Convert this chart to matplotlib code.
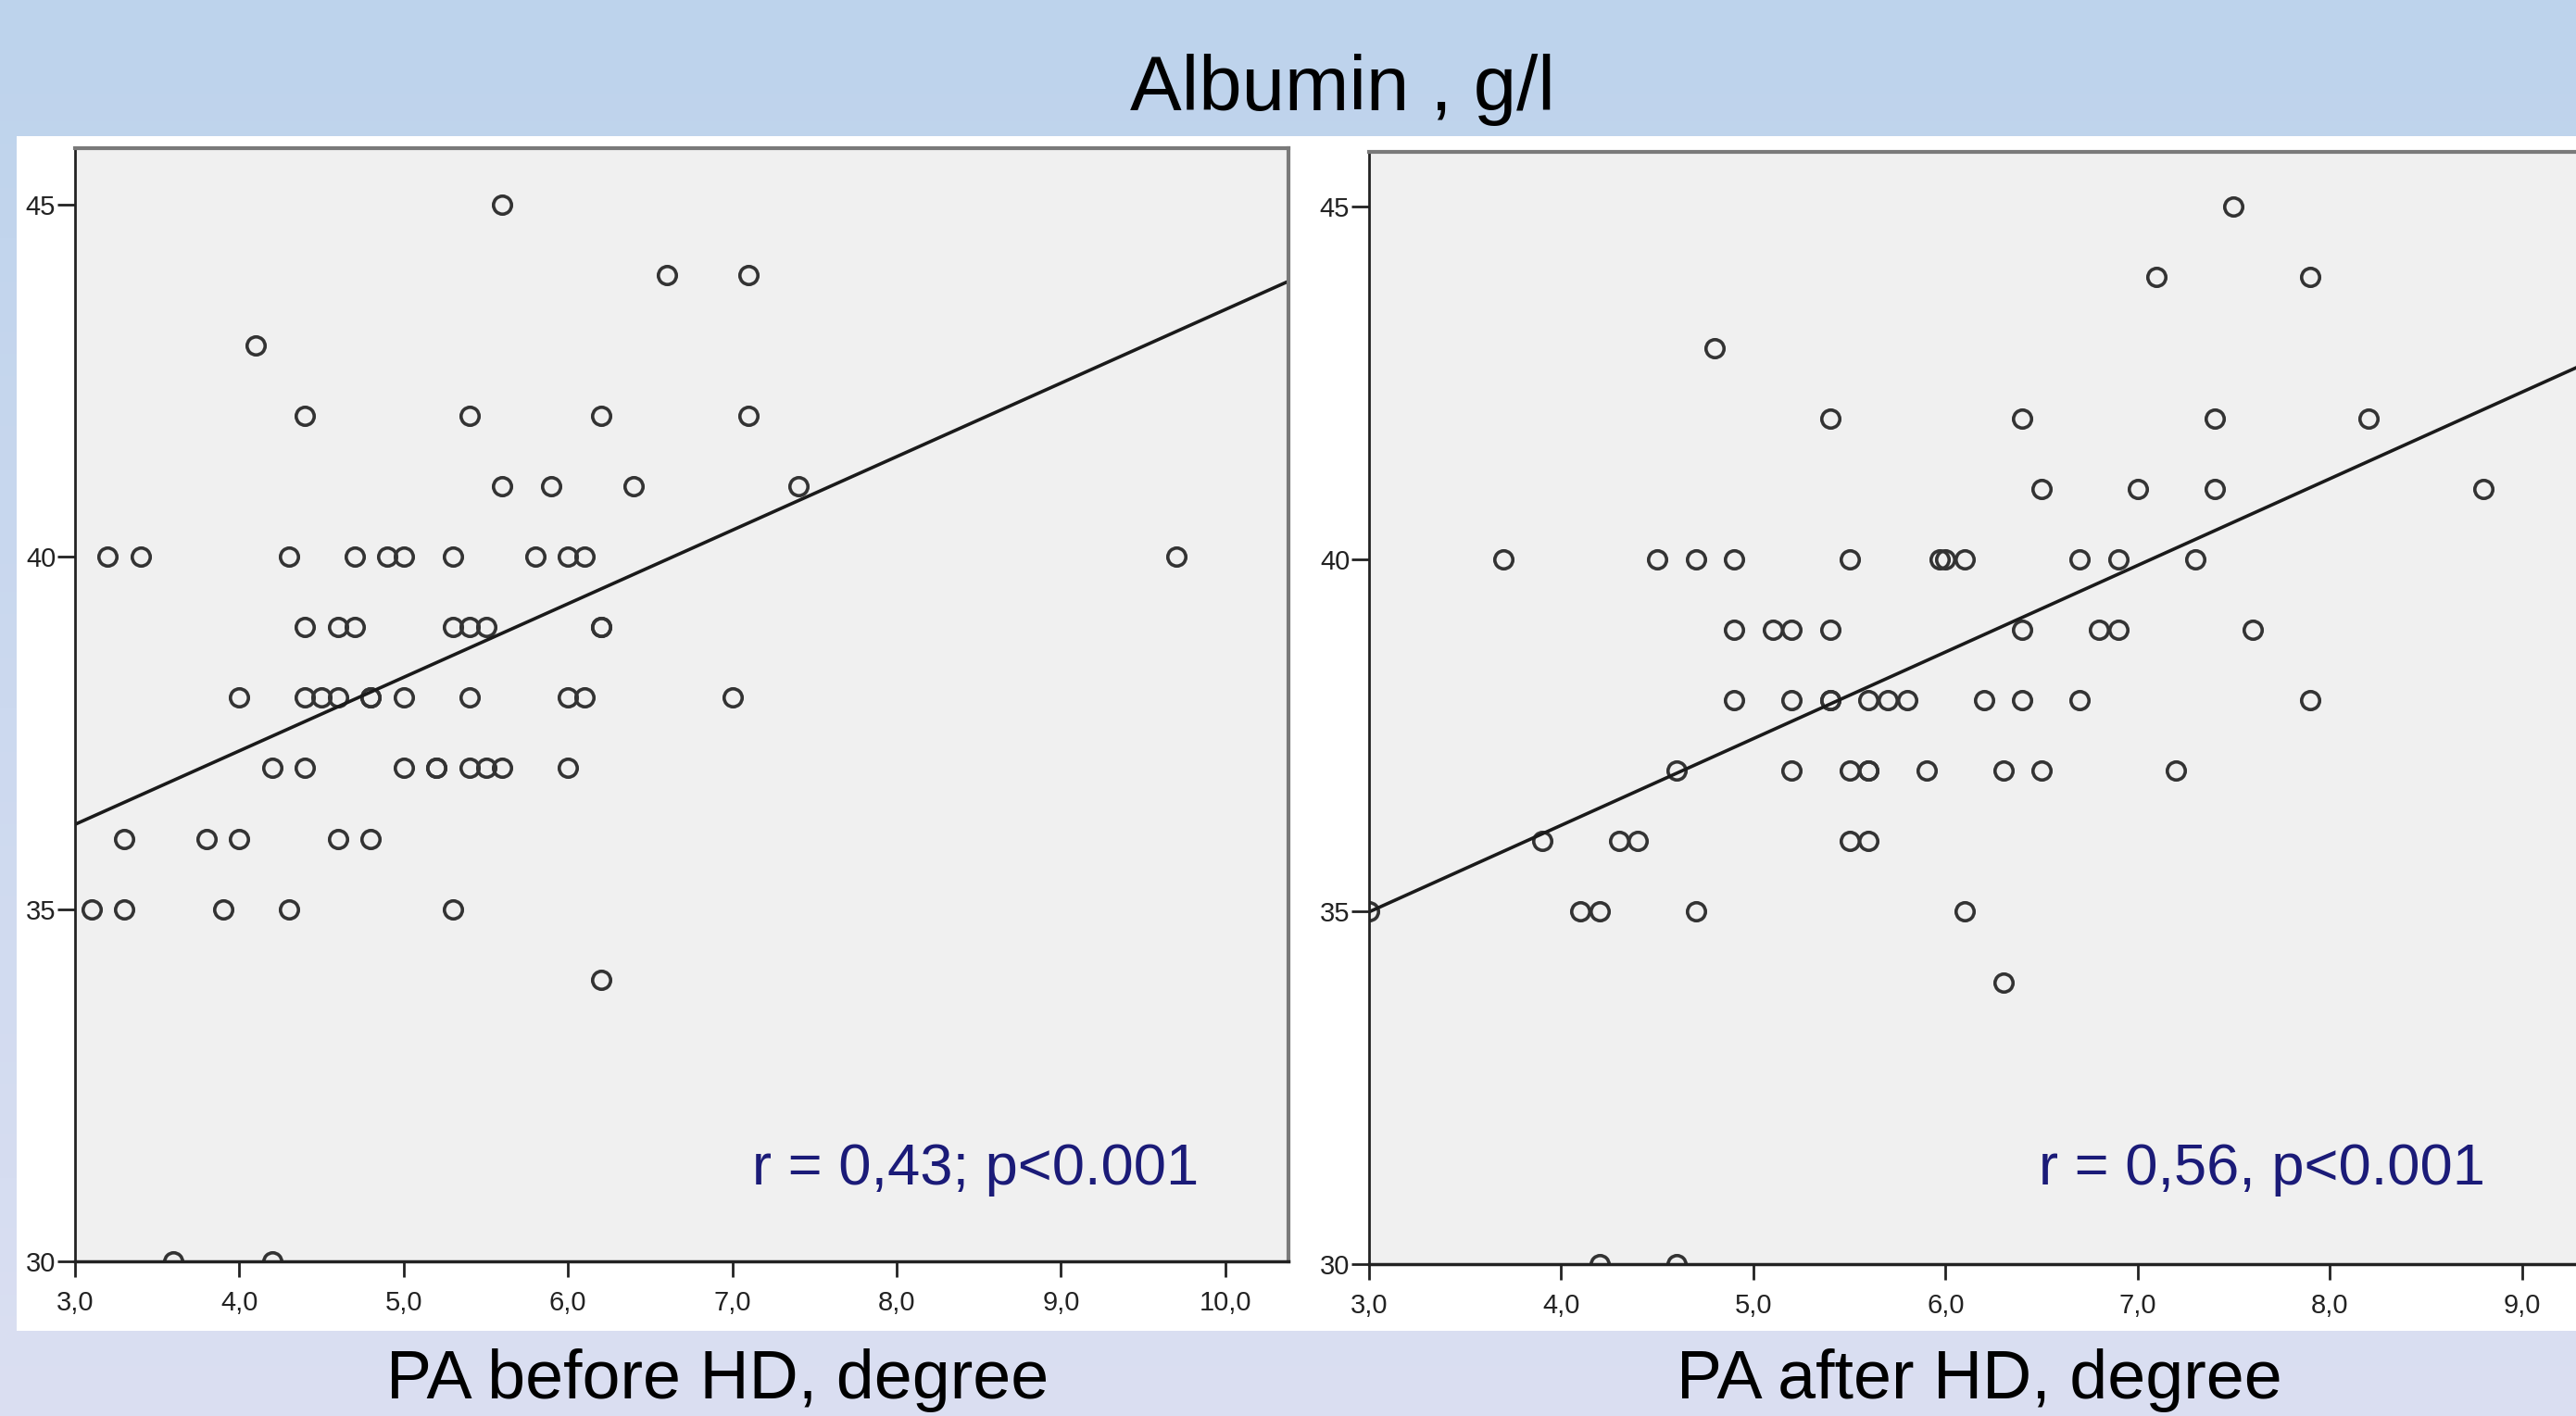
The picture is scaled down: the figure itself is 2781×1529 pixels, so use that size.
import numpy as np
import matplotlib
matplotlib.use("Agg")
import matplotlib.pyplot as plt
from matplotlib.patches import Rectangle

plt.rcParams.update({
    "font.family": ["Liberation Sans", "DejaVu Sans"],
    "xtick.labelsize": 21,
    "ytick.labelsize": 21,
    "xtick.color": "#222222",
    "ytick.color": "#222222",
})

# ---- data ----
# PA before HD (degree) vs albumin (g/l)
before_x = [5.6,
            6.6, 7.1,
            4.1,
            4.4, 5.4, 6.2, 7.1,
            5.6, 5.9, 6.4, 7.4,
            3.2, 3.4, 4.3, 4.7, 4.9, 5.0, 5.3, 5.8, 6.0, 6.1, 9.7,
            4.4, 4.6, 4.7, 5.3, 5.4, 5.5, 6.2, 6.2,
            4.0, 4.4, 4.5, 4.6, 4.8, 4.8, 5.0, 5.4, 6.0, 6.1, 7.0,
            4.2, 4.4, 5.0, 5.2, 5.2, 5.4, 5.5, 5.6, 6.0,
            3.3, 3.8, 4.0, 4.6, 4.8,
            3.1, 3.3, 3.9, 4.3, 5.3,
            6.2,
            3.6, 4.2]
before_y = [45,
            44, 44,
            43,
            42, 42, 42, 42,
            41, 41, 41, 41,
            40, 40, 40, 40, 40, 40, 40, 40, 40, 40, 40,
            39, 39, 39, 39, 39, 39, 39, 39,
            38, 38, 38, 38, 38, 38, 38, 38, 38, 38, 38,
            37, 37, 37, 37, 37, 37, 37, 37, 37,
            36, 36, 36, 36, 36,
            35, 35, 35, 35, 35,
            34,
            30, 30]

# PA after HD (degree) vs albumin (g/l)
after_x = [7.5,
           7.1, 7.9,
           4.8,
           5.4, 6.4, 7.4, 8.2,
           6.5, 7.0, 7.4, 8.8,
           3.7, 4.5, 4.7, 4.9, 5.5, 5.97, 6.0, 6.1, 6.7, 6.9, 7.3,
           4.9, 5.1, 5.2, 5.4, 6.4, 6.8, 6.9, 7.6,
           4.9, 5.2, 5.4, 5.4, 5.6, 5.7, 5.8, 6.2, 6.4, 6.7, 7.9,
           4.6, 5.2, 5.5, 5.6, 5.6, 5.9, 6.3, 6.5, 7.2,
           3.9, 4.3, 4.4, 5.5, 5.6,
           3.0, 4.1, 4.2, 4.7, 6.1,
           6.3,
           4.2, 4.6]
after_y = [45,
           44, 44,
           43,
           42, 42, 42, 42,
           41, 41, 41, 41,
           40, 40, 40, 40, 40, 40, 40, 40, 40, 40, 40,
           39, 39, 39, 39, 39, 39, 39, 39,
           38, 38, 38, 38, 38, 38, 38, 38, 38, 38, 38,
           37, 37, 37, 37, 37, 37, 37, 37, 37,
           36, 36, 36, 36, 36,
           35, 35, 35, 35, 35,
           34,
           30, 30]

# fit lines (intercept, slope) as drawn in the picture
fit_before = (33.07, 1.044)
fit_after = (31.31, 1.229)

yticks = [30, 35, 40, 45]
xticks_before = [3, 4, 5, 6, 7, 8, 9, 10]
xticks_after = [3, 4, 5, 6, 7, 8, 9]

title = "Albumin , g/l"
xlabel_before = "PA before HD, degree"
xlabel_after = "PA after HD, degree"
stat_before = "r = 0,43; p<0.001"
stat_after = "r = 0,56, p<0.001"

W, H = 2781, 1529
fig = plt.figure(figsize=(W / 100, H / 100), dpi=100)

# background: blue -> lavender gradient
bg = fig.add_axes([0, 0, 1, 1], zorder=-5)
top_c = np.array([189, 211, 236]) / 255
bot_c = np.array([219, 223, 242]) / 255
t = np.linspace(0, 1, 256)[:, None]
grad = (1 - t) * top_c + t * bot_c
bg.imshow(grad[:, None, :], aspect="auto", extent=[0, 1, 0, 1])
bg.set_axis_off()

# white panel behind the two charts
fig.patches.append(Rectangle((18 / W, 1 - 1437 / H), 1 - 18 / W, (1437 - 147) / H,
                             transform=fig.transFigure, facecolor="white",
                             edgecolor="none", zorder=-1))


def style_axes(ax, xticks, right_visible=True):
    ax.set_facecolor("#f0f0f0")
    ax.set_yticks(yticks)
    ax.set_yticklabels([str(v) for v in yticks])
    ax.set_xticks(xticks)
    ax.set_xticklabels([f"{v:.1f}".replace(".", ",") for v in xticks])
    ax.tick_params(axis="y", length=14, width=2, pad=1)
    ax.tick_params(axis="x", length=12, width=2, pad=10)
    ax.spines["left"].set_color("#222222")
    ax.spines["left"].set_linewidth(2)
    ax.spines["bottom"].set_color("#222222")
    ax.spines["bottom"].set_linewidth(2.5)
    ax.spines["top"].set_color("#7a7a7a")
    ax.spines["top"].set_linewidth(3)
    ax.spines["right"].set_color("#7a7a7a")
    ax.spines["right"].set_linewidth(3)
    ax.spines["right"].set_visible(right_visible)


# left chart
ax1 = fig.add_axes([81 / W, 1 - 1362 / H, 1310 / W, (1362 - 160) / H])
ax1.plot(before_x, before_y, "o", ms=14, mfc="none", mec="#333333", mew=2.6)
xl1 = (3.0, 10.384)
xs = np.array(xl1)
ax1.plot(xs, fit_before[0] + fit_before[1] * xs, color="#1a1a1a", lw=2.6)
ax1.set_xlim(*xl1)
ax1.set_ylim(30, 45.8)
style_axes(ax1, xticks_before)

# right chart (runs past the right edge of the picture)
ax2 = fig.add_axes([1478 / W, 1 - 1365 / H, 1452 / W, (1365 - 164) / H])
ax2.plot(after_x, after_y, "o", ms=14, mfc="none", mec="#333333", mew=2.6)
xl2 = (3.0, 10.0)
xs = np.array(xl2)
ax2.plot(xs, fit_after[0] + fit_after[1] * xs, color="#1a1a1a", lw=2.6)
ax2.set_xlim(*xl2)
ax2.set_ylim(30, 45.78)
style_axes(ax2, xticks_after)

# texts
fig.text(1449 / W, 1 - 119 / H, title, ha="center", va="baseline",
         fontsize=60, color="black")
fig.text(775 / W, 1 - 1510 / H, xlabel_before, ha="center", va="baseline",
         fontsize=53, color="black")
fig.text(2137 / W, 1 - 1510 / H, xlabel_after, ha="center", va="baseline",
         fontsize=53, color="black")
fig.text(812 / W, 1 - 1279 / H, stat_before, ha="left", va="baseline",
         fontsize=45.5, color="#1b1b78")
fig.text(2201 / W, 1 - 1279 / H, stat_after, ha="left", va="baseline",
         fontsize=45.5, color="#1b1b78")

fig.savefig("out.png", dpi=100)
